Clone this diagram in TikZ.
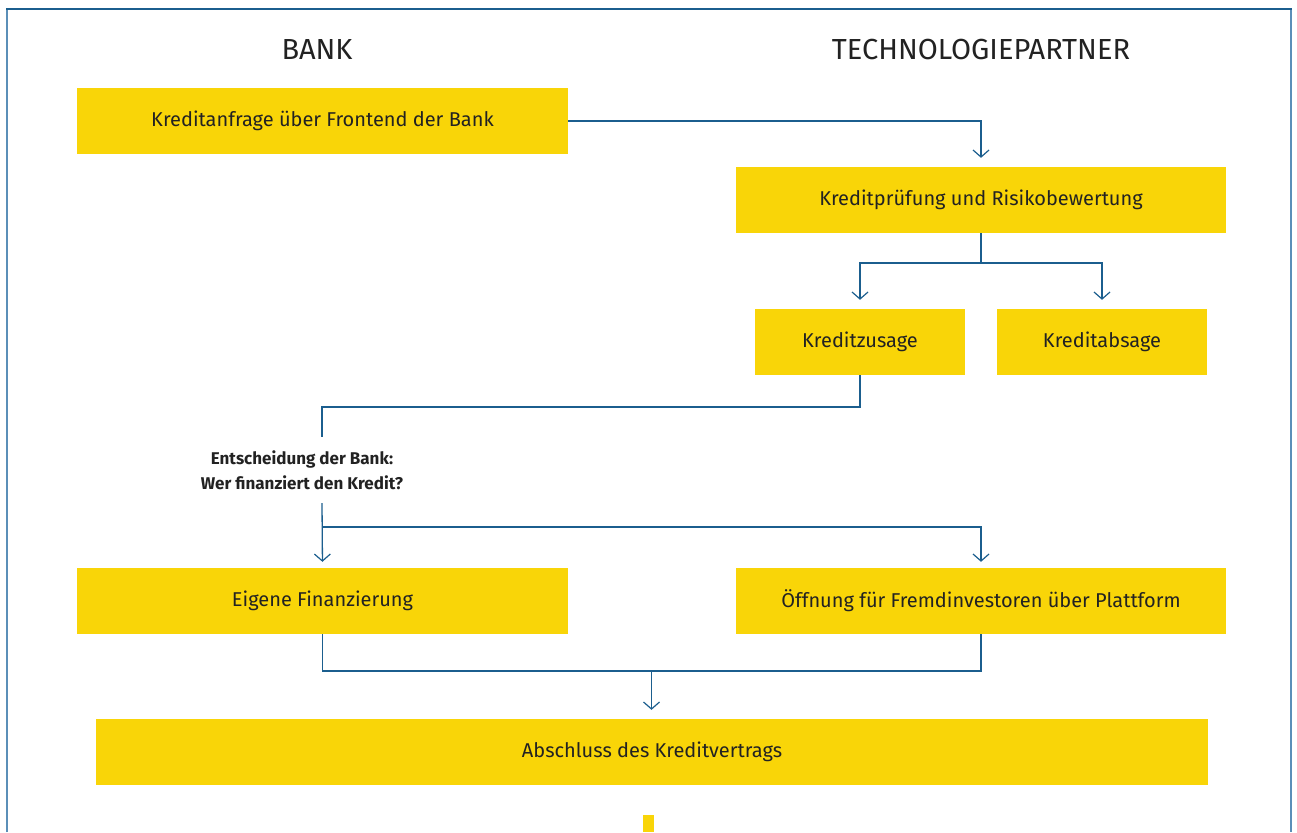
\documentclass[tikz,border=0pt]{standalone}
\usepackage{fontspec}
\setmainfont{Fira Sans}
\usetikzlibrary{arrows.meta}
\definecolor{ylw}{HTML}{F9D508}
\definecolor{lineblue}{HTML}{1B5E8E}
\definecolor{frameblue}{HTML}{5B8FB8}
\definecolor{txt}{HTML}{222222}
\tikzset{
  box/.style={fill=ylw, draw=none, minimum height=66pt, inner sep=0pt, text=txt, font=\fontsize{20}{24}\selectfont},
  title/.style={text=txt, font=\fontsize{29}{33}\selectfont},
  conn/.style={draw=lineblue, line width=1.3pt},
  arr/.style={conn, -{Straight Barb[length=7pt, width=16pt, line width=1.2pt]}},
  decision/.style={text=txt, align=center, inner sep=0pt, font=\bfseries\fontsize{17}{25}\selectfont}
}
\begin{document}
\begin{tikzpicture}[x=1pt,y=-1pt]
\useasboundingbox (0,0) rectangle (1297,832);
% frame
\draw[frameblue, line width=2pt] (7,832) -- (7,9);
\draw[frameblue, line width=2pt] (1291,9) -- (1291,832);
\draw[lineblue, line width=2pt] (6,9) -- (1292,9);
% titles
\node[title] (tbank) at (317,50) {BANK};
\node[title] (ttech) at (981,50) {TECHNOLOGIEPARTNER};
% boxes
\node[box, minimum width=491pt] (b1) at (322.5,121) {Kreditanfrage über Frontend der Bank};
\node[box, minimum width=490pt] (b2) at (981,200) {Kreditprüfung und Risikobewertung};
\node[box, minimum width=210pt] (b3) at (860,342) {Kreditzusage};
\node[box, minimum width=210pt] (b4) at (1102,342) {Kreditabsage};
\node[decision] (dec) at (302,470) {Entscheidung der Bank:\\Wer finanziert den Kredit?};
\node[box, minimum width=491pt] (b5) at (322.5,601) {Eigene Finanzierung};
\node[box, minimum width=490pt] (b6) at (981,601) {Öffnung für Fremdinvestoren über Plattform};
\node[box, minimum width=1112pt] (b7) at (652,752) {Abschluss des Kreditvertrags};
\node[fill=ylw, minimum width=11pt, minimum height=17pt, inner sep=0pt] (mark) at (648.5,823.5) {};
% connectors
\draw[arr, shorten >=9pt] (b1.east) -| (b2.north);
\coordinate (s1) at (981,263);
\draw[arr, shorten >=9pt] (b2.south) -- (s1) -| (b3.north);
\draw[arr, shorten >=9pt] (s1) -| (b4.north);
\coordinate (s2) at (860,407);
\coordinate (dtop) at (322,437);
\coordinate (dbot) at (322,503);
\draw[conn] (b3.south) -- (s2) -| (dtop);
\coordinate (s3) at (322,527);
\draw[arr, shorten >=6pt] (dbot) -- (b5.north);
\draw[arr, shorten >=6pt] (s3) -| (b6.north);
\coordinate (m) at (651.5,671);
\draw[conn] (b5.south) |- (m) -| (b6.south);
\draw[arr, shorten >=9pt] (m) -- (m |- b7.north);
\end{tikzpicture}
\end{document}
